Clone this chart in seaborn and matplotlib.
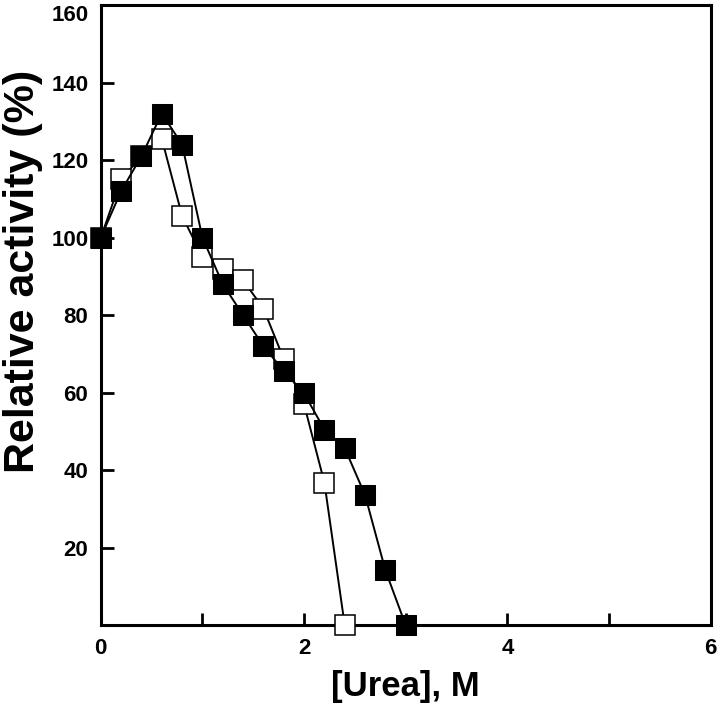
import pandas as pd
import seaborn as sns
import matplotlib.pyplot as plt

# urea concentrations (M)
urea_filled = [0, 0.2, 0.4, 0.6, 0.8, 1.0, 1.2, 1.4, 1.6, 1.8, 2.0, 2.2, 2.4, 2.6, 2.8, 3.0]
act_filled = [100, 112, 121, 132, 124, 100, 88, 80, 72, 65.6, 59.8, 50.5, 45.7, 33.6, 14.2, 0]

urea_open = [0, 0.2, 0.4, 0.6, 0.8, 1.0, 1.2, 1.4, 1.6, 1.8, 2.0, 2.2, 2.4]
act_open = [100, 115, 121, 125.5, 105.6, 95, 92, 89, 81.7, 68.7, 57, 36.8, 0]

x_ticks = [0, 1, 2, 3, 4, 5, 6]
x_labels = ["0", "", "2", "", "4", "", "6"]
y_ticks = [20, 40, 60, 80, 100, 120, 140, 160]

df_f = pd.DataFrame({"urea": urea_filled, "act": act_filled})
df_o = pd.DataFrame({"urea": urea_open, "act": act_open})

sns.set_theme(style="white")
plt.rcParams['font.family'] = ['Liberation Sans', 'DejaVu Sans']
plt.rcParams['text.color'] = 'black'
plt.rcParams['xtick.color'] = 'black'
plt.rcParams['ytick.color'] = 'black'
plt.rcParams['axes.labelcolor'] = 'black'

fig = plt.figure(figsize=(7.2, 7.09), dpi=100)
ax = fig.add_axes([0.140, 0.118, 0.847, 0.875])

sns.lineplot(data=df_o, x="urea", y="act", ax=ax, color="black", lw=1.4,
             marker="s", markersize=15, markerfacecolor="white",
             markeredgecolor="black", markeredgewidth=1.1, zorder=3, clip_on=False)
sns.lineplot(data=df_f, x="urea", y="act", ax=ax, color="black", lw=1.4,
             marker="s", markersize=15, markerfacecolor="black",
             markeredgecolor="black", zorder=4, clip_on=False)

ax.set_xlim(0, 6)
ax.set_ylim(0, 160)
ax.set_xticks(x_ticks)
ax.set_xticklabels(x_labels)
ax.set_yticks(y_ticks)
ax.tick_params(direction="in", length=9, width=2, labelsize=16, pad=9,
               top=False, right=False, bottom=True, left=True)
for lab in ax.get_xticklabels() + ax.get_yticklabels():
    lab.set_fontweight("bold")
ax.get_yticklabels()[-1].set_verticalalignment("top")
for sp in ax.spines.values():
    sp.set_linewidth(2.2)
    sp.set_color("black")

ax.set_xlabel("[Urea], M", fontsize=25, fontweight="bold", labelpad=8)
ax.set_ylabel("Relative activity (%)", fontsize=31, fontweight="bold", labelpad=6, y=0.57)

fig.savefig("out.png", dpi=100)
